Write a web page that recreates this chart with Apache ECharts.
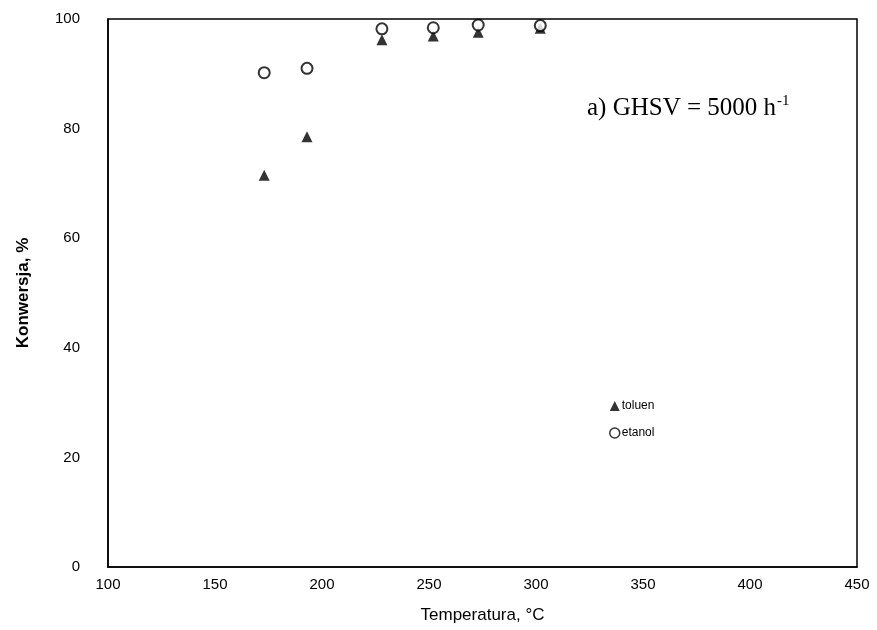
<!DOCTYPE html>
<html>
<head>
<meta charset="utf-8">
<script src="https://cdn.jsdelivr.net/npm/echarts@6/dist/echarts.min.js"></script>
<style>
  html, body { margin: 0; padding: 0; background: #fff; }
  #myChart { width: 877px; height: 630px; }
</style>
</head>
<body>
<div id="myChart"></div>
<script>
  // temperatura (°C) i konwersja (%)
  let temps = [173, 193, 228, 252, 273, 302]
  let toluen = [71.5, 78.5, 96.2, 96.9, 97.6, 98.3]
  let etanol = [90.2, 91.0, 98.2, 98.4, 98.9, 98.8]
  let xTicks = [100, 150, 200, 250, 300, 350, 400, 450]
  let yTicks = [0, 20, 40, 60, 80, 100]

  let font = 'Liberation Sans, Arial, sans-serif'
  let serif = 'Liberation Serif, Times New Roman, serif'

  function pairs(ys) {
    return temps.map((t, i) => [t, ys[i]])
  }

  let myChart = echarts.init(document.getElementById('myChart'))
  myChart.setOption({
    animation: false,
    backgroundColor: '#fff',
    grid: {
      left: 108,
      right: 20,
      top: 19,
      bottom: 63,
      show: true,
      borderColor: '#000',
      borderWidth: 1.5
    },
    legend: {
      orient: 'vertical',
      left: 604,
      top: 395,
      itemWidth: 10,
      itemHeight: 10,
      itemGap: 15,
      textStyle: { fontFamily: font, fontSize: 12, color: '#000', padding: [0, 0, 0, -3] },
      data: [
        { name: 'toluen', icon: 'triangle', itemStyle: { color: '#000' } },
        { name: 'etanol', icon: 'circle', itemStyle: { color: '#fff', borderColor: '#000', borderWidth: 1.5 } }
      ]
    },
    graphic: [{
      type: 'text',
      left: 587,
      top: 94,
      style: {
        text: '{n|a) GHSV = 5000 h}{s|-1}',
        rich: {
          n: { fontFamily: serif, fontSize: 25, fill: '#000' },
          s: { fontFamily: serif, fontSize: 15, fill: '#000', verticalAlign: 'top', padding: [0, 0, 13, 1] }
        }
      }
    }],
    xAxis: {
      type: 'value',
      min: xTicks[0],
      max: xTicks[xTicks.length - 1],
      interval: 50,
      name: 'Temperatura, °C',
      nameLocation: 'middle',
      nameGap: 40,
      nameTextStyle: { fontFamily: font, fontSize: 17, color: '#000' },
      splitLine: { show: false },
      axisTick: { show: false },
      axisLine: { lineStyle: { color: '#000', width: 1.5 } },
      axisLabel: { fontFamily: font, fontSize: 15, color: '#000', margin: 10 }
    },
    yAxis: {
      type: 'value',
      min: yTicks[0],
      max: yTicks[yTicks.length - 1],
      interval: 20,
      name: 'Konwersja, %',
      nameLocation: 'middle',
      nameGap: 76,
      nameTextStyle: { fontFamily: font, fontSize: 17, fontWeight: 'bold', color: '#000' },
      splitLine: { show: false },
      axisTick: { show: false },
      axisLine: { lineStyle: { color: '#000', width: 1.5 } },
      axisLabel: { fontFamily: font, fontSize: 15, color: '#000', margin: 28 }
    },
    series: [
      {
        name: 'toluen',
        type: 'scatter',
        symbol: 'triangle',
        symbolSize: 11,
        itemStyle: { color: '#000' },
        data: pairs(toluen),
        z: 2
      },
      {
        name: 'etanol',
        type: 'scatter',
        symbol: 'circle',
        symbolSize: 11,
        itemStyle: { color: '#fff', borderColor: '#000', borderWidth: 2 },
        data: pairs(etanol),
        z: 3
      }
    ]
  })
</script>
</body>
</html>
